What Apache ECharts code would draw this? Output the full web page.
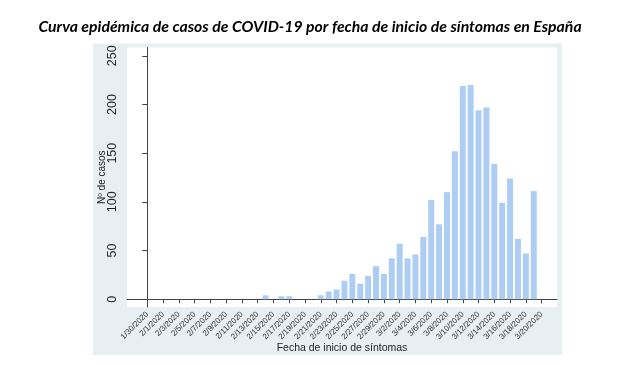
<!DOCTYPE html>
<html>
<head>
<meta charset="utf-8">
<script src="https://cdn.jsdelivr.net/npm/echarts@6/dist/echarts.min.js"></script>
<style>
html,body{margin:0;padding:0;background:#fff;}
#chart{width:620px;height:365px;}
</style>
</head>
<body>
<div id="chart"></div>
<script>
// Dates 1/30/2020 .. 3/20/2020 (one bar per day)
const categories = [
  "1/30/2020","1/31/2020",
  "2/1/2020","2/2/2020","2/3/2020","2/4/2020","2/5/2020","2/6/2020","2/7/2020","2/8/2020","2/9/2020","2/10/2020",
  "2/11/2020","2/12/2020","2/13/2020","2/14/2020","2/15/2020","2/16/2020","2/17/2020","2/18/2020","2/19/2020","2/20/2020",
  "2/21/2020","2/22/2020","2/23/2020","2/24/2020","2/25/2020","2/26/2020","2/27/2020","2/28/2020","2/29/2020",
  "3/1/2020","3/2/2020","3/3/2020","3/4/2020","3/5/2020","3/6/2020","3/7/2020","3/8/2020","3/9/2020","3/10/2020",
  "3/11/2020","3/12/2020","3/13/2020","3/14/2020","3/15/2020","3/16/2020","3/17/2020","3/18/2020","3/19/2020","3/20/2020"
];
const casos = [
  0,0,
  0,0,0,0,0,0,0,0,0,0,
  0,0,0,4,0,3,3,0,0,0,
  4,8,10,19,26,16,24,34,26,
  42,57,42,46,64,102,77,110,152,219,
  220,194,197,139,99,124,62,47,111,0
];
const yTicks = [0,50,100,150,200,250];
const xTickIdx = [0,2,4,6,8,10,12,14,16,18,20,22,24,26,28,30,32,34,36,38,40,42,44,46,48,50];

const titleText = "Curva epidémica de casos de COVID-19 por fecha de inicio de síntomas en España";
const yName = "Nº de casos";
const xName = "Fecha de inicio de síntomas";

const chart = echarts.init(document.getElementById('chart'), null, {renderer:'canvas'});
chart.setOption({
  animation:false,
  backgroundColor:'#ffffff',
  title:{
    text:titleText, left:'center', top:14,
    textStyle:{fontFamily:'Lato', fontWeight:'bold', fontStyle:'italic', fontSize:15.8, color:'#000'}
  },
  graphic:[{
    type:'rect', z:-10, silent:true,
    shape:{x:93, y:43.5, width:469, height:311.5},
    style:{fill:'#e8eff2'}
  }],
  grid:{left:127, right:63, top:47.5, bottom:58, show:true, backgroundColor:'#ffffff', borderWidth:0},
  xAxis:{
    type:'value', min:-2.57, max:51.95,
    name:xName, nameLocation:'middle', nameGap:36, nameMoveOverlap:false,
    nameTextStyle:{fontFamily:'Liberation Sans', fontSize:10.5, color:'#222', verticalAlign:'top'},
    axisLine:{show:true, lineStyle:{color:'#444', width:1}},
    axisTick:{show:true, length:4, customValues:xTickIdx, lineStyle:{color:'#444'}},
    axisLabel:{show:true, customValues:xTickIdx, rotate:45, margin:6,
      fontFamily:'Liberation Sans', fontSize:8, color:'#333',
      formatter:function(v){ return categories[Math.round(v)]; }},
    splitLine:{show:false}
  },
  yAxis:{
    type:'value', min:-8, max:258.5,
    name:yName, nameLocation:'middle', nameGap:20, nameRotate:90, nameMoveOverlap:false,
    nameTextStyle:{fontFamily:'Liberation Sans', fontSize:10, color:'#222'},
    axisLine:{show:true, lineStyle:{color:'#444', width:1}},
    axisTick:{show:true, length:5, customValues:yTicks, lineStyle:{color:'#444'}},
    axisLabel:{show:true, customValues:yTicks, rotate:90, margin:8,
      fontFamily:'Liberation Sans', fontSize:12.5, color:'#222'},
    splitLine:{show:false}
  },
  series:[{
    type:'bar',
    data:casos.map(function(v,i){ return [i,v]; }),
    barWidth:6,
    itemStyle:{color:'#aecdf3'},
    markLine:{
      silent:true, symbol:['none','none'], label:{show:false},
      lineStyle:{color:'#eef2f5', type:'solid', width:1},
      data:yTicks.map(function(t){ return {yAxis:t}; }),
      z:-1
    }
  }]
});
</script>
</body>
</html>
